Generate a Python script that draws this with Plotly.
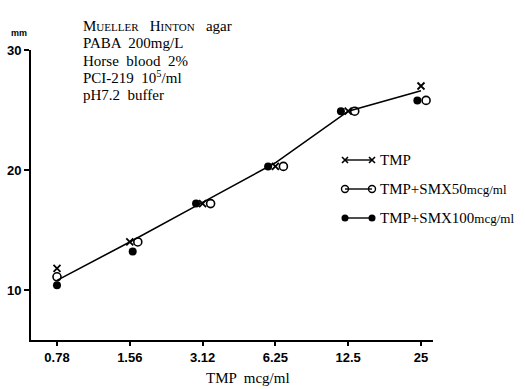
import plotly.graph_objects as go

# ---- data ----
conc_labels = ["0.78", "1.56", "3.12", "6.25", "12.5", "25"]
tmp = [11.8, 14.0, 17.2, 20.3, 24.9, 27.0]
tmp_smx50 = [11.1, 14.0, 17.2, 20.3, 24.9, 25.8]
tmp_smx100 = [10.4, 13.2, 17.2, 20.3, 24.9, 25.8]
fit_line = [10.8, 14.0, 17.3, 20.6, 24.9, 26.6]

legend_names = ["TMP", "TMP+SMX50<span style='font-size:13px'>mcg/ml</span>",
                "TMP+SMX100<span style='font-size:13px'>mcg/ml</span>"]

idx = list(range(len(conc_labels)))
# small horizontal jitter so overlapping markers stay visible
off_x = [0, 0, 0, 0, 0, 0]
off_o = [0, 0.11, 0.11, 0.11, 0.09, 0.07]
off_f = [0, 0.04, -0.09, -0.1, -0.1, -0.05]

SERIF = "Liberation Serif, Times New Roman, serif"
SANS = "Liberation Sans, Arial, sans-serif"

L, R, T, B = 31, 92, 50, 49
W, H = 525, 389
pw, ph = W - L - R, H - T - B


def px(xp):
    return (xp - L) / pw


def py(yp):
    return (H - yp - B) / ph


fig = go.Figure()

fig.add_trace(go.Scatter(x=idx, y=fit_line, mode="lines",
                         line=dict(color="black", width=1.6), showlegend=False,
                         hoverinfo="skip"))

fig.add_trace(go.Scatter(x=[i + d for i, d in zip(idx, off_x)], y=tmp, mode="markers",
                         marker=dict(symbol="x-thin", size=7, line=dict(color="black", width=1.8)),
                         showlegend=False))
fig.add_trace(go.Scatter(x=[i + d for i, d in zip(idx, off_o)], y=tmp_smx50, mode="markers",
                         marker=dict(symbol="circle-open", size=8, color="black", line=dict(width=1.6)),
                         showlegend=False))
fig.add_trace(go.Scatter(x=[i + d for i, d in zip(idx, off_f)], y=tmp_smx100, mode="markers",
                         marker=dict(symbol="circle", size=8, color="black"),
                         showlegend=False))

# ---- custom legend on an overlay axis (0..1 over the plot area) ----
leg_pix_y = [160, 189, 218]
leg_y = [py(v) for v in leg_pix_y]
leg_sym = [dict(symbol="x-thin", size=6, line=dict(color="black", width=1.6)),
           dict(symbol="circle-open", size=7, color="black", line=dict(width=1.4)),
           dict(symbol="circle", size=7, color="black")]
for yy, m in zip(leg_y, leg_sym):
    fig.add_trace(go.Scatter(x=[px(345), px(372)], y=[yy, yy], mode="lines+markers",
                             line=dict(color="black", width=1.4), marker=m,
                             xaxis="x2", yaxis="y2", showlegend=False, hoverinfo="skip"))
for yy, name in zip(leg_y, legend_names):
    fig.add_annotation(x=px(378), y=yy, xref="paper", yref="paper", text=name,
                       showarrow=False, xanchor="left", yanchor="middle",
                       font=dict(family=SERIF, size=15, color="black"))

fig.update_layout(
    width=W, height=H,
    margin=dict(l=L, r=R, t=T, b=B, autoexpand=False),
    paper_bgcolor="white", plot_bgcolor="white",
    showlegend=False,
    xaxis=dict(range=[-0.357, 5.165], tickvals=idx, ticktext=conc_labels, automargin=False,
               showgrid=False, zeroline=False, showline=True, linecolor="black", linewidth=2,
               ticks="outside", ticklen=4, tickwidth=1.5, tickcolor="black",
               tickfont=dict(family=SANS, size=13, color="black", weight="bold")),
    yaxis=dict(range=[5.83, 30], tickvals=[10, 20, 30], ticktext=["10", "20", "30"], automargin=False,
               showgrid=False, zeroline=False, showline=True, linecolor="black", linewidth=2,
               ticks="outside", ticklen=5, tickwidth=1.5, tickcolor="black",
               tickfont=dict(family=SANS, size=13, color="black", weight="bold")),
    xaxis2=dict(overlaying="x", range=[0, 1], visible=False, anchor="y2"),
    yaxis2=dict(overlaying="y", range=[0, 1], visible=False, anchor="x2"),
)

# text block
info_lines = [
    "M<span style='font-size:11px'>UELLER</span>   H<span style='font-size:11px'>INTON</span>   agar",
    "PABA  200mg/L",
    "Horse  blood  2%",
    "PCI-219  10<sup>5</sup>/ml",
    "pH7.2  buffer",
]
info_y = [26, 43, 61, 77, 95]
for t, yy in zip(info_lines, info_y):
    fig.add_annotation(x=px(81), y=py(yy), xref="paper", yref="paper", text=t, showarrow=False,
                       xanchor="left", yanchor="middle",
                       font=dict(family=SERIF, size=15, color="black"))

fig.add_annotation(x=px(9), y=py(33), xref="paper", yref="paper",
                   text="mm", showarrow=False, xanchor="left", yanchor="middle",
                   font=dict(family=SANS, size=9, color="black", weight="bold"))
fig.add_annotation(x=px(248), y=py(378), xref="paper", yref="paper",
                   text="TMP  mcg/ml", showarrow=False, xanchor="center", yanchor="middle",
                   font=dict(family=SERIF, size=15, color="black"))

fig.write_html("out.html", config={"displayModeBar": False},
               post_script="document.body.style.margin='0';document.body.style.padding='0';")
